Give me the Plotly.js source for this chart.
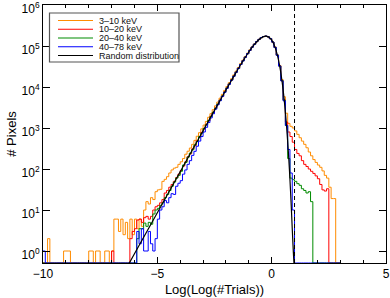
<!DOCTYPE html>
<html><head><meta charset="utf-8">
<script src="https://cdn.plot.ly/plotly-3.0.1.min.js"></script>
<style>html,body{margin:0;padding:0;background:#fff}#chart{width:390px;height:298px}</style>
</head><body><div id="chart"></div>
<script>
// Histogram bins: left edges start at binStart, width binWidth (130 bins, -10.0 .. 3.0)
const binStart = -10.0, binWidth = 0.1;
const seriesNames = ["3\u201310 keV", "10\u201320 keV", "20\u201340 keV", "40\u201378 keV"];
const seriesColors = ["#ff8c00", "#ff0000", "#008b00", "#0000ff"];
const randomName = "Random distribution";

const counts_3_10 = [
  0,0,2,0,0,0,0,0,0,1,
  1,1,0,0,0,0,0,0,0,0,
  1,1,0,1,1,0,0,1,1,0,
  1,6,6,3,6,2.5,5,2,6,2.5,
  6,3.5,6,4,10,16,14,20,18,28,
  31,32,50,56,65,80,95,105,110,130,
  150,180,230,272,325,400,500,630,770,955,
  1180,1450,1830,2240,2800,3480,4300,5350,6650,8280,
  10280,12750,15850,19750,24400,30000,37300,45400,55400,67000,
  80300,95800,112200,129300,145500,160300,170500,173300,167200,151800,
  125500,93500,60800,33600,15200,5800,2300,1300,1100,1000,
  850,700,580,480,400,330,260,210,170,145,
  125,110,90,70,60,36,19,19,0,0
];
const counts_10_20 = [
  0,0,0,0,0,0,0,0,0,0,
  0,0,0,0,0,0,0,0,0,0,
  0,0,0,0,0,0,0,0,0,0,
  1,0,0,0,0,0,0,0,2,3,
  3.5,5.7,6,5,6.5,7,6,7,10,12,
  13,15,18,26,30,36,42,50,62,75,
  92,118,150,200,235,310,370,490,600,780,
  950,1230,1500,1940,2380,3060,3780,4820,5950,7580,
  9380,11850,14750,18500,22900,28700,35400,43800,53300,65200,
  78100,94100,110300,128200,144700,160200,170000,173800,167600,151500,
  125000,93100,59700,32900,14300,4850,1400,800,620,450,
  300,240,210,160,130,115,100,88,78,68,
  58,42,31,29,33,0,0,0,0,0
];
const counts_20_40 = [
  0,0,0,0,0,0,0,0,0,0,
  0,0,0,0,0,0,0,0,0,0,
  0,0,0,0,0,0,0,0,0,0,
  0,0,0,0,0,0,0,0,0,0,
  0,2,3.5,3.5,4.8,4,5,4.5,8,10,
  11,13,15,20,24,30,38,48,60,70,
  88,125,145,195,245,295,390,470,620,750,
  975,1195,1530,1900,2420,3010,3830,4760,6030,7500,
  9450,11780,14820,18420,23050,28550,35550,43600,53550,64950,
  78350,93850,110600,127900,145000,159900,170300,173500,167900,151200,
  125200,92800,60000,32600,14400,4770,1150,180,60,55,
  50,44,40,33,30,26,28,16,0,0,
  0,0,0,0,0,0,0,0,0,0
];
const counts_40_78 = [
  1,0,0,0,0,0,0,0,0,0,
  0,0,0,0,0,0,0,0,0,0,
  0,0,0,0,0,0,0,0,0,0,
  0,0,0,0,0,0,0,0,0,0,
  0,3,1.5,3.5,1,1,3,1.5,1,2,
  6,10,12,17,15,20,25,24,38,45,
  52,75,95,130,160,215,270,360,480,620,
  800,1040,1360,1760,2230,2880,3680,4640,5880,7400,
  9300,11700,14700,18300,22900,28500,35400,43500,53400,65000,
  78300,94000,110800,128500,145500,160800,171000,174500,168000,151000,
  124800,92500,59500,32400,14100,4600,1150,300,80,10,
  0,0,0,0,0,0,0,0,0,0,
  0,0,0,0,0,0,0,0,0,0
];

// Random distribution curve
const randomX = [-6.25,-6.0,-5.5,-5.0,-4.5,-4.0,-3.5,-3.0,-2.5,-2.0,-1.5,-1.25,-1.0,-0.8,-0.6,-0.45,-0.35,-0.26,-0.15,-0.05,0.05,0.15,0.25,0.35,0.45,0.55,0.6,0.65,0.7,0.75,0.8,0.85,0.9,0.95,0.98];
const randomY = [0.48,0.86,2.7,8.6,27,86,272,857,2700,8430,25650,43650,71600,102000,136700,159900,170200,173800,167800,151300,125100,92900,59900,32700,14350,4790,2410,1132,464,174,55,15,3.5,0.9,0.45];

const thresholdX = 1.0;   // dashed vertical line
const yTickVals = [1,10,100,1000,10000,100000,1000000];
const yTickText = ["10<sup>0</sup>","10<sup>1</sup>","10<sup>2</sup>","10<sup>3</sup>","10<sup>4</sup>","10<sup>5</sup>","10<sup>6</sup>"];
const xTickVals = [-10,-5,0,5];

const FLOOR = 0.51; // bottom of the y range; empty bins are drawn on it
const W = 390, H = 298, M = {l:43, r:4, t:5, b:35};
const plotW = W - M.l - M.r, plotH = H - M.t - M.b;
const px2x = p => (p - M.l) / plotW;
const py2y = p => 1 - (p - M.t) / plotH;

function stepTrace(vals, color, name) {
  const x = [], y = [];
  for (let i = 0; i < vals.length; i++) {
    x.push(+(binStart + i * binWidth).toFixed(2));
    y.push(vals[i] > 0 ? vals[i] : FLOOR);
  }
  x.push(+(binStart + vals.length * binWidth).toFixed(2));
  y.push(y[y.length - 1]);
  return {type:'scatter', mode:'lines', x, y, name, showlegend:false, hoverinfo:'skip',
          line:{color, width:1, shape:'hv'}};
}

const allCounts = [counts_3_10, counts_10_20, counts_20_40, counts_40_78];
const traces = allCounts.map((c, k) => stepTrace(c, seriesColors[k], seriesNames[k]));
traces.push({type:'scatter', mode:'lines', x:randomX, y:randomY, name:randomName, showlegend:false,
  hoverinfo:'skip', line:{color:'#000', width:1.2, shape:'spline', smoothing:0.6}});

// manual legend (compact, like the original)
const legColors = seriesColors.concat(['#000']);
const legNames = seriesNames.concat([randomName]);
const shapes = [
  {type:'line', xref:'x', yref:'paper', x0:thresholdX, x1:thresholdX, y0:0, y1:1,
   line:{color:'#000', width:1, dash:'4px,3px'}},
  {type:'rect', xref:'paper', yref:'paper', x0:px2x(49.5), x1:px2x(179), y0:py2y(62), y1:py2y(13),
   line:{color:'#555', width:1.2}, fillcolor:'#fff', layer:'above'}
];
const annotations = [];
legNames.forEach((nm, k) => {
  const py = 20.5 + k * 8.75;
  shapes.push({type:'line', xref:'paper', yref:'paper', x0:px2x(58), x1:px2x(93), y0:py2y(py), y1:py2y(py),
    line:{color:legColors[k], width:1.2}, layer:'above'});
  annotations.push({xref:'paper', yref:'paper', x:px2x(98), y:py2y(py), xanchor:'left', yanchor:'middle',
    text:nm, showarrow:false, font:{size:9, color:'#111'}, borderpad:0});
});

const layout = {
  width:W, height:H, margin:M, paper_bgcolor:'#fff', plot_bgcolor:'#fff',
  font:{family:'"Liberation Sans", Arial, Helvetica, sans-serif', color:'#000', size:12},
  showlegend:false,
  xaxis:{range:[-10,5], tickvals:xTickVals, ticks:'inside', ticklen:6, tickwidth:1, tickcolor:'#000',
    minor:{ticks:'inside', ticklen:3, dtick:1, tickcolor:'#000', tickwidth:1},
    showline:true, linecolor:'#000', linewidth:1, mirror:'allticks', showgrid:false, zeroline:false,
    ticklabeloverflow:'allow',
    tickfont:{size:12}, title:{text:'Log(Log(#Trials))', font:{size:13}, standoff:4}},
  yaxis:{type:'log', range:[Math.log10(FLOOR), 6.001], tickvals:yTickVals, ticktext:yTickText,
    ticks:'inside', ticklen:7, tickwidth:1, tickcolor:'#000',
    showline:true, linecolor:'#000', linewidth:1, mirror:'allticks', showgrid:false, zeroline:false,
    ticklabeloverflow:'allow', ticklabelshift:4,
    tickfont:{size:12}, title:{text:'# Pixels', font:{size:13}, standoff:2}},
  shapes, annotations
};
Plotly.newPlot('chart', traces, layout, {staticPlot:true, displayModeBar:false});
</script></body></html>
